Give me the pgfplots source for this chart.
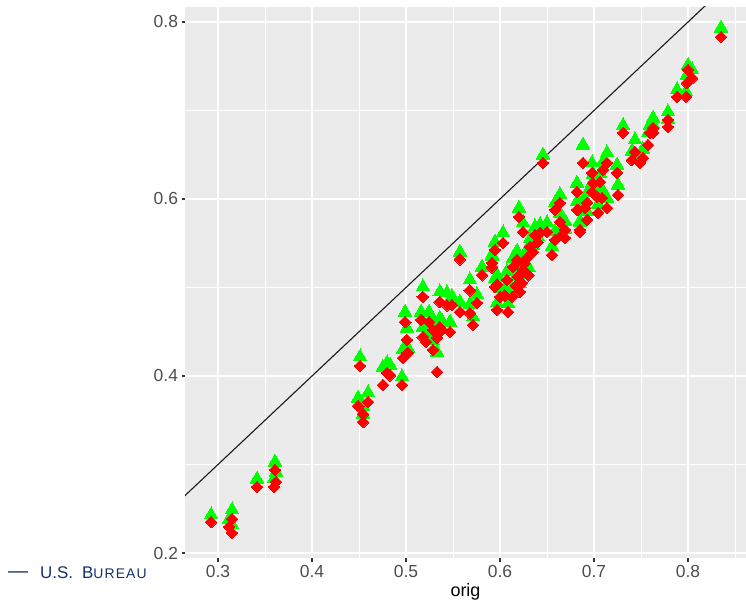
\documentclass[border=0pt]{standalone}
\usepackage{pgfplots}
\pgfplotsset{compat=1.18}
\usepackage{pgfplotstable}
\usepackage{fontspec}
\setmainfont{Liberation Sans}
\definecolor{panel}{HTML}{EBEBEB}
\definecolor{tickgray}{HTML}{4D4D4D}
\definecolor{tickline}{HTML}{333333}
\definecolor{ggreen}{HTML}{00FF00}
\definecolor{gred}{HTML}{FF0000}
\definecolor{navy}{HTML}{17306B}
\pgfplotstableread{
x g r
0.2926 0.2430 0.2350
0.3149 0.2486 0.2384
0.3117 0.2380 0.2294
0.3149 0.2320 0.2226
0.3415 0.2836 0.2746
0.3606 0.3028 0.2938
0.3617 0.2915 0.2802
0.3596 0.2840 0.2746
0.4511 0.4215 0.4113
0.4490 0.3750 0.3660
0.4596 0.3810 0.3706
0.4543 0.3660 0.3570
0.4543 0.3570 0.3480
0.4755 0.4100 0.3898
0.4798 0.4147 0.4034
0.4830 0.4124 0.4010
0.4957 0.3990 0.3898
0.4990 0.4723 0.4610
0.5010 0.4542 0.4407
0.5020 0.4316 0.4260
0.4968 0.4300 0.4203
0.5180 0.5006 0.4893
0.5160 0.4723 0.4633
0.5180 0.4550 0.4440
0.5213 0.4480 0.4384
0.5245 0.4723 0.4610
0.5287 0.4400 0.4294
0.5330 0.4270 0.4045
0.5287 0.4620 0.4520
0.5360 0.4650 0.4550
0.5330 0.4530 0.4430
0.5360 0.4950 0.4836
0.5436 0.4938 0.4800
0.5468 0.4610 0.4497
0.5574 0.4836 0.4723
0.5680 0.5085 0.4970
0.5713 0.4667 0.4576
0.5680 0.4810 0.4710
0.5755 0.4920 0.4825
0.5809 0.5230 0.5140
0.5915 0.5350 0.5230
0.5968 0.4825 0.4746
0.6000 0.4994 0.4893
0.6085 0.4820 0.4723
0.5968 0.5140 0.5030
0.6202 0.5898 0.5797
0.6245 0.5729 0.5627
0.5947 0.5514 0.5424
0.6032 0.5616 0.5503
0.5947 0.5100 0.5006
0.6128 0.4990 0.4893
0.6074 0.5180 0.5085
0.6181 0.5410 0.5310
0.6245 0.5290 0.5198
0.6191 0.5210 0.5119
0.6287 0.5430 0.5333
0.6319 0.5550 0.5458
0.6234 0.5150 0.5051
0.6138 0.5330 0.5232
0.6372 0.5684 0.5593
0.6426 0.5710 0.5616
0.6500 0.5729 0.5627
0.6553 0.5460 0.5367
0.6585 0.5630 0.5537
0.6638 0.5840 0.5740
0.6660 0.5690 0.5593
0.6585 0.5955 0.5876
0.6638 0.6050 0.5955
0.6691 0.5660 0.5560
0.6851 0.5740 0.5627
0.6830 0.5980 0.5876
0.6904 0.6000 0.5898
0.6883 0.6610 0.6407
0.7309 0.6830 0.6746
0.7436 0.6667 0.6531
0.7404 0.6540 0.6440
0.7521 0.6560 0.6463
0.7489 0.6500 0.6407
0.7574 0.6746 0.6610
0.7628 0.6840 0.6746
0.7138 0.6520 0.6407
0.7096 0.6420 0.6328
0.6979 0.6407 0.6294
0.6990 0.6280 0.6180
0.7064 0.6290 0.6192
0.7245 0.6384 0.6294
0.7255 0.6158 0.6045
0.6979 0.6180 0.6079
0.7032 0.6120 0.6023
0.7085 0.6110 0.6011
0.6926 0.6068 0.5955
0.6819 0.6180 0.6079
0.7138 0.6010 0.5898
0.7043 0.5940 0.5842
0.6819 0.5970 0.5876
0.6926 0.5860 0.5763
0.6851 0.5750 0.5650
0.6691 0.5750 0.5650
0.8351 0.7932 0.7830
0.8000 0.7510 0.7458
0.8043 0.7458 0.7367
0.7989 0.7400 0.7310
0.7883 0.7232 0.7153
0.7979 0.7210 0.7153
0.7787 0.6983 0.6893
0.7787 0.6900 0.6814
0.7628 0.6915 0.6802
0.7596 0.6836 0.6746
0.5489 0.4900 0.4802
0.5383 0.4620 0.4520
0.6457 0.6497 0.6407
0.5915 0.5370 0.5277
0.5574 0.5400 0.5320
0.6170 0.5120 0.5020
0.6300 0.5230 0.5140
0.6260 0.5360 0.5270
0.6050 0.5000 0.4910
0.6350 0.5480 0.5400
0.6210 0.5040 0.4950
0.6400 0.5580 0.5510
}\pts
\begin{document}
\begin{tikzpicture}
\useasboundingbox (0,0) rectangle (746bp,601bp);
\begin{scope}
\clip (0,0) rectangle (149bp,601bp);
\node[anchor=base west, inner sep=0pt, text=navy, font=\fontsize{17}{19}\selectfont] at (8bp,23bp)
  {\resizebox{20bp}{!}{—}\hspace{12bp}U.S.\hspace{9bp}B{\fontsize{14}{16}\selectfont\addfontfeature{LetterSpace=8}UREAU}};
\end{scope}
\begin{axis}[
  at={(185bp,43bp)}, anchor=south west,
  scale only axis, width=561bp, height=551bp,
  xmin=0.26489, xmax=0.8617, ymin=0.19435, ymax=0.81695,
  xtick={0.3,0.4,0.5,0.6,0.7,0.8},
  ytick={0.2,0.4,0.6,0.8},
  minor xtick={0.35,0.45,0.55,0.65,0.75,0.85},
  minor ytick={0.3,0.5,0.7},
  grid=both,
  major grid style={white, line width=1.07bp},
  minor grid style={white, line width=0.53bp},
  axis background/.style={fill=panel},
  axis line style={draw=none},
  tick pos=left, tick align=outside,
  major tick length=3.5bp, minor tick length=0pt,
  tick style={tickline, line width=1.07bp},
  ticklabel style={font=\fontsize{17.5}{20}\selectfont, text=tickgray},
  xlabel={orig},
  xlabel style={at={(axis description cs:0.5,0)}, anchor=base, yshift=-38bp, font=\fontsize{18}{20}\selectfont, text=black},
  /pgf/number format/.cd, fixed, fixed zerofill, precision=1, assume math mode=true
]
\addplot[only marks, mark=triangle*, mark size=8bp, mark options={fill=ggreen, draw=ggreen, line width=0pt}] table[x=x, y=g] {\pts};
\addplot[only marks, mark=square*, mark size=4.2bp, mark options={rotate=45, fill=gred, draw=gred, line width=0pt}] table[x=x, y=r] {\pts};
\addplot[black!90, line width=1.1bp] coordinates {(0.2,0.2) (0.9,0.9)};
\end{axis}
\end{tikzpicture}
\end{document}
